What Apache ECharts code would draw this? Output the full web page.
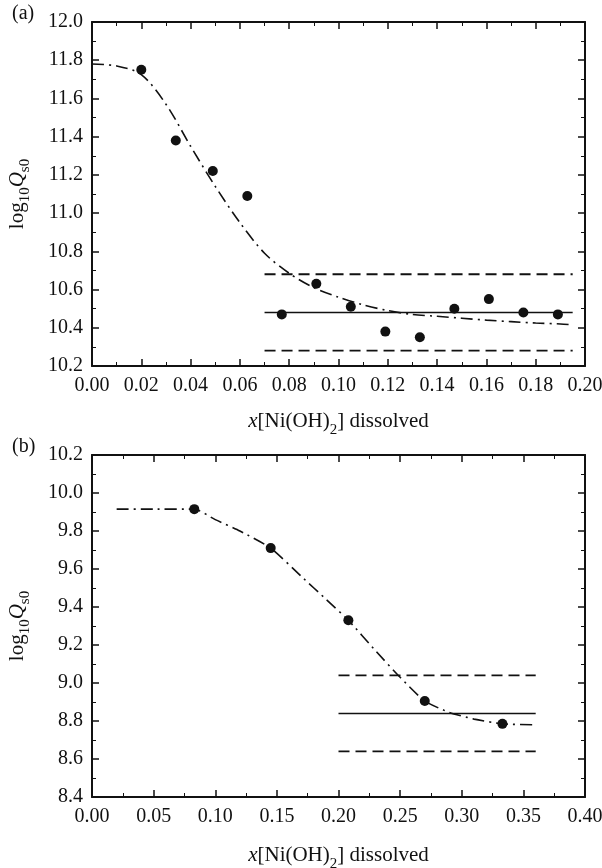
<!DOCTYPE html>
<html><head><meta charset="utf-8">
<script src="https://cdn.jsdelivr.net/npm/echarts@6/dist/echarts.min.js"></script>
<style>html,body{margin:0;padding:0;background:#fff}#c{width:602px;height:868px}</style>
</head><body><div id="c"></div>
<script>
// Panel (a)
const aPointsX = [0.020,0.034,0.049,0.063,0.077,0.091,0.105,0.119,0.133,0.147,0.161,0.175,0.189];
const aPointsY = [11.75,11.38,11.22,11.09,10.47,10.63,10.51,10.38,10.35,10.50,10.55,10.48,10.47];
const aCurveX = [0,0.01,0.02,0.03,0.04,0.05,0.06,0.07,0.08,0.09,0.10,0.11,0.12,0.13,0.14,0.15,0.16,0.17,0.18,0.19,0.195];
const aCurveY = [11.78,11.77,11.725,11.57,11.35,11.14,10.95,10.79,10.685,10.61,10.56,10.52,10.49,10.47,10.46,10.45,10.44,10.432,10.425,10.42,10.415];
const aLineX = [0.07,0.195];
const aMean = 10.48, aUpper = 10.68, aLower = 10.28;
// Panel (b)
const bPointsX = [0.083,0.145,0.208,0.270,0.333];
const bPointsY = [9.915,9.71,9.33,8.905,8.785];
const bCurveX = [0.02,0.05,0.083,0.10,0.12,0.145,0.17,0.19,0.208,0.23,0.25,0.27,0.29,0.31,0.333,0.36];
const bCurveY = [9.915,9.915,9.915,9.86,9.80,9.71,9.56,9.44,9.33,9.17,9.03,8.905,8.845,8.81,8.785,8.78];
const bLineX = [0.20,0.36];
const bMean = 8.84, bUpper = 9.04, bLower = 8.64;

const FONT = '"Liberation Serif", "Times New Roman", serif';
const C = '#111';
const zip = (xs, ys) => xs.map((x,i)=>[x, ys[i]]);
const hline = (xs, y) => xs.map(x=>[x, y]);

function xAx(grid, min, max, interval, top, gap) {
  return {
    type:'value', gridIndex:grid, min, max, interval, position: top?'top':'bottom',
    axisLine:{show:true, onZero:false, lineStyle:{color:C, width:2}},
    axisTick:{show:true, inside:true, length:7, lineStyle:{color:C, width:1.5}},
    minorTick:{show:true, splitNumber:2, length:4, lineStyle:{color:C, width:1}},
    splitLine:{show:false},
    axisLabel:{show:!top, margin:10, color:C, fontFamily:FONT, fontSize:20,
      formatter: v => v.toFixed(2)},
    name: top ? '' : '{i|x}[Ni(OH){s|2}] dissolved',
    nameLocation:'middle', nameGap:gap,
    nameTextStyle:{color:C, fontFamily:FONT, fontSize:21,
      rich:{i:{fontStyle:'italic', fontFamily:FONT, fontSize:21, color:C},
            s:{fontFamily:FONT, fontSize:15, color:C, verticalAlign:'bottom', padding:[0,0,-6,0]}}}
  };
}
function yAx(grid, min, max, interval, right) {
  return {
    type:'value', gridIndex:grid, min, max, interval, position: right?'right':'left',
    axisLine:{show:true, onZero:false, lineStyle:{color:C, width:2}},
    axisTick:{show:true, inside:true, length:7, lineStyle:{color:C, width:1.5}},
    minorTick:{show:true, splitNumber:2, length:4, lineStyle:{color:C, width:1}},
    splitLine:{show:false},
    axisLabel:{show:!right, margin:9, color:C, fontFamily:FONT, fontSize:20,
      formatter: v => v.toFixed(1)},
    name: right ? '' : 'log{s|10}{q|Q}{s|s0}',
    nameLocation:'middle', nameGap:64, nameRotate:90,
    nameTextStyle:{color:C, fontFamily:FONT, fontSize:21,
      rich:{q:{fontStyle:'italic', fontFamily:FONT, fontSize:21, color:C},
            s:{fontFamily:FONT, fontSize:15, color:C, verticalAlign:'bottom', padding:[0,0,-5,0]}}}
  };
}

const dashDot = {color:C, width:1.6, type:[12,5,2,5]};
const dashed = {color:C, width:1.8, type:[11,6]};
const solid = {color:C, width:1.5, type:'solid'};
function lineSeries(xi, yi, data, style, smooth) {
  return {type:'line', xAxisIndex:xi, yAxisIndex:yi, data, showSymbol:false, symbol:'none',
    lineStyle:style, smooth: smooth||false, z:2, silent:true};
}
function pts(xi, yi, data) {
  return {type:'scatter', xAxisIndex:xi, yAxisIndex:yi, data, symbol:'circle', symbolSize:10,
    itemStyle:{color:C, opacity:1}, z:5, silent:true};
}

const chart = echarts.init(document.getElementById('c'), null, {renderer:'canvas'});
chart.setOption({
  animation:false,
  backgroundColor:'#fff',
  grid:[
    {left:92, top:22, width:493, height:344, containLabel:false, outerBoundsMode:'none'},
    {left:92, top:455, width:493, height:342, containLabel:false, outerBoundsMode:'none'}
  ],
  xAxis:[xAx(0,0,0.2,0.02,false,45), xAx(0,0,0.2,0.02,true,0), xAx(1,0,0.4,0.05,false,48), xAx(1,0,0.4,0.05,true,0)],
  yAxis:[yAx(0,10.2,12.0,0.2,false), yAx(0,10.2,12.0,0.2,true), yAx(1,8.4,10.2,0.2,false), yAx(1,8.4,10.2,0.2,true)],
  graphic:[
    {type:'text', left:12, top:4, style:{text:'(a)', font:'20px "Liberation Serif"', fill:C}},
    {type:'text', left:12, top:437, style:{text:'(b)', font:'20px "Liberation Serif"', fill:C}}
  ],
  series:[
    lineSeries(0,0, zip(aCurveX,aCurveY), dashDot, 0.3),
    lineSeries(0,0, hline(aLineX,aMean), solid),
    lineSeries(0,0, hline(aLineX,aUpper), dashed),
    lineSeries(0,0, hline(aLineX,aLower), dashed),
    pts(0,0, zip(aPointsX,aPointsY)),
    lineSeries(2,2, zip(bCurveX,bCurveY), dashDot, 0.2),
    lineSeries(2,2, hline(bLineX,bMean), solid),
    lineSeries(2,2, hline(bLineX,bUpper), dashed),
    lineSeries(2,2, hline(bLineX,bLower), dashed),
    pts(2,2, zip(bPointsX,bPointsY))
  ]
});
</script></body></html>
